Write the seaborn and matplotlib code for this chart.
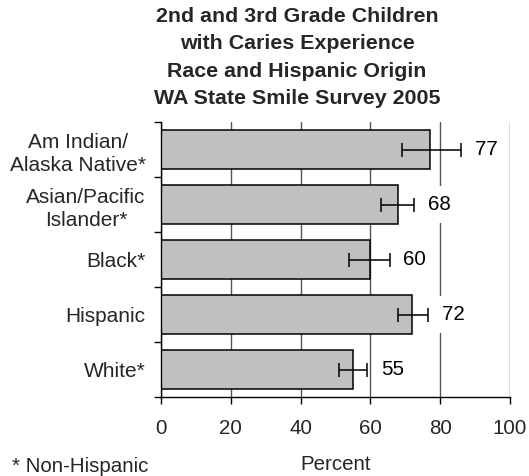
import matplotlib
matplotlib.use("Agg")
import matplotlib.pyplot as plt
from matplotlib.ticker import FixedLocator
import seaborn as sns
import pandas as pd
import numpy as np

# Survey results: percent of children with caries experience, with 95% CI bounds
groups = ["Am Indian/\nAlaska Native*", "Asian/Pacific\nIslander*", "Black*", "Hispanic", "White*"]
pct = [77, 68, 60, 72, 55]
ci_low = [69, 63, 54, 68, 51]
ci_high = [86, 72.5, 65.5, 76.5, 59]
x_ticks = [0, 20, 40, 60, 80, 100]

title = ("2nd and 3rd Grade Children\nwith Caries Experience\n"
         "Race and Hispanic Origin\nWA State Smile Survey 2005")

sns.set_style("white")
plt.rcParams["font.family"] = ["Liberation Sans", "DejaVu Sans"]

df = pd.DataFrame({"group": groups, "pct": pct, "lo": ci_low, "hi": ci_high})

fig = plt.figure(figsize=(5.29, 4.76), dpi=100)
ax = fig.add_axes([161 / 529, 1 - 397 / 476, (510 - 161) / 529, (397 - 122) / 476])

sns.barplot(data=df, x="pct", y="group", orient="h", color="#c0c0c0",
            edgecolor="black", linewidth=1.1, width=0.72, errorbar=None,
            saturation=1, ax=ax, zorder=2)

pos = np.arange(len(df))
ax.errorbar(df["pct"], pos,
            xerr=[df["pct"] - df["lo"], df["hi"] - df["pct"]],
            fmt="none", ecolor="black", elinewidth=1.1, capsize=4.7,
            capthick=1.1, zorder=4)

for i, row in df.iterrows():
    ax.annotate(f"{row['pct']:.0f}", xy=(row["hi"], i), xytext=(10, 0),
                textcoords="offset points", ha="left", va="center",
                fontsize=14.8, color="black", zorder=3,
                bbox=dict(boxstyle="square,pad=0.45", facecolor="white",
                          edgecolor="none"))

ax.set_xlim(0, 100)
ax.set_ylim(len(df) - 0.5, -0.5)
ax.xaxis.set_major_locator(FixedLocator(x_ticks))
ax.set_xticklabels([str(t) for t in x_ticks])
ax.grid(axis="x", color="#555555", linewidth=1.0, zorder=0)
ax.grid(axis="y", visible=False)
ax.set_axisbelow(True)

# category boundaries get the tick marks, labels sit at the bar centres
ax.yaxis.set_minor_locator(FixedLocator(np.arange(-0.5, len(df), 1.0)))
ax.tick_params(axis="y", which="major", length=0, pad=11, labelsize=15)
ax.tick_params(axis="y", which="minor", left=True, length=5, width=1, color="black")
ax.tick_params(axis="x", which="major", bottom=True, length=5, width=1,
               color="black", pad=10.5, labelsize=14.8)
for lab in ax.get_yticklabels():
    lab.set_multialignment("center")
    lab.set_linespacing(1.3)

ax.set_xlabel("")
ax.set_ylabel("")
for side in ("top", "right"):
    ax.spines[side].set_visible(False)
for side in ("left", "bottom"):
    ax.spines[side].set_color("black")
    ax.spines[side].set_linewidth(1.0)

fig.text(297 / 529, 1 - 57.5 / 476, title, ha="center", va="center",
         fontsize=15.4, fontweight="bold", linespacing=1.56)
fig.text(335.5 / 529, 1 - 464 / 476, "Percent", ha="center", va="center",
         fontsize=14.8)
fig.text(12 / 529, 1 - 466 / 476, "* Non-Hispanic", ha="left", va="center",
         fontsize=14.8)

fig.savefig("out.png", dpi=100)
